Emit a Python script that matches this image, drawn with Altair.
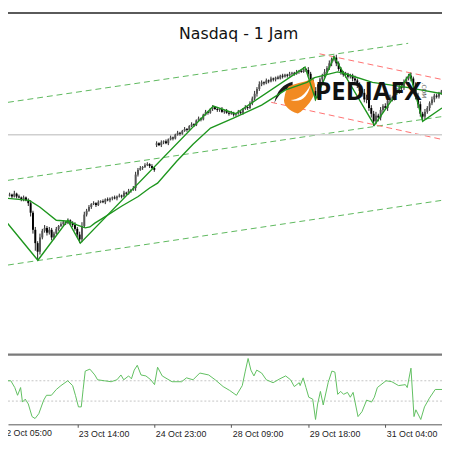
import altair as alt
import pandas as pd

# ---------------- data ----------------
first_bar = 4
first_open = 8004
closes = [
    8005, 8003, 8006, 8003, 8002, 8000, 8002, 7999, 7996, 7986,
    7968, 7954, 7945, 7960, 7967, 7970, 7965, 7968, 7960, 7964,
    7969, 7972, 7974, 7976, 7975, 7978, 7975, 7973, 7969, 7963,
    7958, 7972, 7984, 7988, 7992, 7995, 7996, 7994, 7997, 7998,
    7997, 8000, 7999, 8001, 8002, 8001, 8003, 8004, 8003, 8007,
    8006, 8009, 8010, 8012, 8026, 8031, 8033, 8034, 8036, 8037,
    8035, 8033, 8031, 8059, 8057, 8060, 8061, 8059, 8063, 8065,
    8064, 8068, 8070, 8069, 8072, 8074, 8073, 8077, 8079, 8078,
    8083, 8085, 8084, 8089, 8092, 8091, 8095, 8097, 8095, 8094,
    8095, 8092, 8093, 8091, 8090, 8091, 8089, 8090, 8092, 8091,
    8095, 8097, 8096, 8101, 8106, 8111, 8116, 8121, 8123, 8122,
    8125, 8124, 8127, 8126, 8128, 8127, 8130, 8129, 8131, 8130,
    8132, 8133, 8132, 8134, 8135, 8134, 8137, 8136, 8132, 8125,
    8114, 8109, 8118, 8126, 8130, 8134, 8138, 8143, 8147, 8149,
    8143, 8137, 8134, 8131, 8132, 8129, 8130, 8127, 8125, 8120,
    8114, 8112, 8105, 8107, 8096, 8090, 8082, 8088, 8086, 8094,
    8098, 8096, 8104, 8107, 8106, 8112, 8114, 8118, 8117, 8123,
    8127, 8130, 8127, 8120, 8108, 8100, 8090, 8087, 8092, 8096,
    8101, 8105, 8109, 8108, 8112, 8113,
]
wick_up = [
    2, 1, 3, 1, 2, 1, 2, 1, 2, 3,
    2, 3, 2, 4, 2, 3, 2, 3, 2, 2,
    2, 1, 2, 2, 1, 2, 1, 2, 3, 2,
    3, 4, 3, 2, 2, 1, 2, 1, 2, 1,
    2, 1, 2, 1, 1, 2, 1, 2, 1, 2,
    1, 2, 1, 2, 3, 2, 2, 1, 2, 2,
    1, 2, 1, 2, 1, 2, 1, 2, 1, 2,
    1, 1, 2, 1, 1, 2, 1, 1, 2, 1,
    1, 2, 1, 1, 2, 1, 1, 2, 1, 2,
    1, 2, 1, 2, 1, 2, 1, 1, 2, 1,
    1, 2, 1, 2, 2, 3, 2, 3, 2, 1,
    2, 1, 2, 1, 1, 2, 1, 2, 1, 1,
    2, 1, 1, 2, 1, 2, 2, 1, 3, 2,
    3, 4, 3, 2, 2, 3, 2, 3, 2, 2,
    3, 2, 2, 1, 2, 1, 2, 2, 3, 2,
    3, 2, 4, 3, 2, 3, 3, 4, 2, 3,
    2, 3, 2, 3, 2, 2, 3, 2, 2, 3,
    2, 2, 3, 2, 3, 4, 3, 2, 3, 2,
    2, 3, 2, 2, 1, 2,
]
wick_dn = [
    1, 2, 1, 2, 1, 2, 2, 1, 3, 4,
    4, 8, 9, 3, 2, 2, 3, 2, 3, 2,
    1, 2, 1, 2, 2, 1, 2, 2, 2, 3,
    4, 3, 2, 2, 1, 2, 1, 2, 1, 1,
    1, 2, 1, 2, 2, 1, 2, 1, 2, 1,
    2, 1, 2, 1, 3, 2, 1, 2, 1, 1,
    2, 1, 2, 2, 1, 2, 2, 1, 2, 1,
    2, 1, 1, 2, 1, 1, 2, 1, 1, 2,
    1, 1, 2, 1, 1, 2, 1, 2, 1, 2,
    2, 1, 2, 1, 2, 1, 2, 2, 1, 2,
    2, 1, 2, 1, 2, 2, 3, 2, 2, 2,
    1, 2, 1, 2, 2, 1, 1, 2, 1, 2,
    1, 2, 2, 1, 2, 1, 1, 2, 3, 4,
    4, 5, 3, 2, 3, 2, 2, 2, 3, 2,
    3, 2, 3, 2, 3, 2, 2, 3, 2, 3,
    3, 4, 3, 4, 3, 4, 5, 3, 4, 3,
    3, 2, 3, 2, 3, 2, 2, 3, 2, 2,
    2, 2, 3, 4, 3, 4, 3, 4, 3, 2,
    3, 2, 3, 2, 2, 2,
]
gap_bar = 67
gap_open = 8057

ma_bar = [3.3, 12.4, 16.9, 24.0, 29.3, 33.1, 36.4, 38.4, 40.5, 43.8,
          52.1, 59.1, 64.0, 67.4, 75.6, 82.6, 90.1, 100.4, 112.0, 122.3,
          131.4, 134.7, 144.6, 147.9, 159.5, 173.6, 180.2, 189.3]
ma_val = [8001, 7999, 7992, 7978, 7977, 7973, 7970, 7971, 7975, 7980,
          7993, 8003, 8012, 8017, 8040, 8058, 8075, 8086, 8099, 8115,
          8123, 8128, 8134, 8132, 8123, 8118, 8115, 8111]

zz_bar = [0, 16.1, 28.9, 34.3, 91.3, 100.8, 130.6, 135.1, 143.0, 160.3, 175.6, 181.0, 189.3]
zz_val = [7984, 7936, 7978, 7954, 8098, 8090, 8139, 8105, 8150, 8078, 8132, 8082, 8096]

chan_names = ["up_green", "mid_green", "low_green", "up_red", "low_red"]
chan_kind = ["green", "green", "green", "red", "red"]
chan_bar0 = [3.3, 3.3, 3.3, 136.8, 116.1]
chan_val0 = [8102, 8020, 7931, 8153, 8102]
chan_bar1 = [174.8, 189.3, 189.3, 189.3, 189.3]
chan_val1 = [8164, 8087, 7999, 8126, 8063]

price_line = 8068

ind_bar = [3.3, 4.5, 6.2, 7.4, 8.7, 9.5, 10.7, 12.0, 13.6, 14.9,
           16.5, 18.6, 19.8, 21.9, 24.0, 26.0, 28.9, 31.0, 32.2, 33.5,
           34.7, 35.5, 36.4, 38.4, 40.5, 41.7, 44.6, 47.5, 50.0, 51.7,
           52.9, 55.0, 56.2, 57.4, 58.7, 60.3, 62.4, 64.5, 66.1, 67.4,
           69.4, 73.6, 77.7, 79.8, 82.6, 85.5, 89.3, 92.1, 95.5, 98.3,
           101.2, 103.7, 105.0, 106.2, 107.4, 108.7, 109.9, 112.0, 114.0, 116.9,
           119.8, 122.3, 124.4, 126.0, 128.1, 128.5, 129.8, 131.0, 132.2, 133.9,
           135.1, 136.0, 137.2, 138.4, 140.5, 142.1, 143.4, 144.6, 145.9, 147.1,
           148.8, 150.0, 151.2, 153.3, 155.0, 157.0, 159.1, 160.3, 161.6, 165.3,
           167.8, 170.7, 173.6, 174.4, 176.0, 177.3, 178.1, 180.2, 181.8, 183.9,
           186.4, 189.3]
ind_val = [45, 45, 38, 30, 38, 23, 26, 21, 8, 6,
           11, 25, 30, 30, 36, 40, 45, 40, 30, 18,
           18, 36, 55, 57, 51, 46, 45, 44, 46, 51,
           46, 50, 47, 56, 61, 51, 50, 46, 41, 59,
           50, 44, 44, 48, 46, 53, 51, 46, 39, 35,
           30, 40, 55, 68, 56, 50, 56, 53, 46, 43,
           47, 50, 46, 39, 43, 40, 48, 38, 28, 26,
           5, 21, 34, 20, 43, 55, 54, 31, 34, 31,
           33, 28, 33, 8, 13, 25, 23, 28, 38, 45,
           44, 40, 41, 38, 58, 8, 15, 5, 18, 27,
           36, 36]
ind_levels = [45, 24]

tick_bars = [0, 33, 66, 99, 132, 165]
tick_labels = ["22 Oct 05:00", "23 Oct 14:00", "24 Oct 23:00",
               "28 Oct 09:00", "29 Oct 18:00", "31 Oct 04:00"]

title_text = "Nasdaq - 1 Jam"
logo_text = "PEDIAFX"

assert len(closes) == len(wick_up) == len(wick_dn)
assert len(ind_bar) == len(ind_val)

# ---------------- tables ----------------
bars = list(range(first_bar, first_bar + len(closes)))
opens = [first_open] + closes[:-1]
opens[gap_bar - first_bar] = gap_open
candles = pd.DataFrame({
    "i": bars, "o": opens, "c": closes,
    "h": [max(o, c) + u for o, c, u in zip(opens, closes, wick_up)],
    "l": [min(o, c) - d for o, c, d in zip(opens, closes, wick_dn)],
})
candles["dir"] = ["up" if c >= o else "down" for o, c in zip(opens, closes)]
ma_df = pd.DataFrame({"i": ma_bar, "p": ma_val})
zz_df = pd.DataFrame({"i": zz_bar, "p": zz_val})
chan_rows = []
for n, k, b0, v0, b1, v1 in zip(chan_names, chan_kind, chan_bar0, chan_val0, chan_bar1, chan_val1):
    chan_rows.append({"name": n, "kind": k, "i": b0, "p": v0})
    chan_rows.append({"name": n, "kind": k, "i": b1, "p": v1})
chan_df = pd.DataFrame(chan_rows)
ind_df = pd.DataFrame({"i": ind_bar, "v": ind_val})
lvl_df = pd.DataFrame({"v": ind_levels})
first_lbl = pd.DataFrame({"i": [tick_bars[0]], "t": [tick_labels[0]]})
one = pd.DataFrame({"a": [0]})

# ---------------- scales / layout ----------------
W, H = 442, 420
label_expr = " : ".join(f"datum.value == {b} ? '{t}'" for b, t in zip(tick_bars[1:], tick_labels[1:])) + " : ''"
xaxis = alt.Axis(values=tick_bars[1:], labelExpr=label_expr, grid=False, title=None,
                 domainColor="#555555", tickColor="#555555", tickSize=3,
                 labelFont="Liberation Sans", labelFontSize=9, labelColor="#222222",
                 labelAlign="left", labelBaseline="top", labelPadding=2, labelOffset=1)
xscale = alt.Scale(domain=[3.3, 189.3], nice=False, zero=False)
X = alt.X("i:Q", scale=xscale, axis=xaxis)
pscale = alt.Scale(domain=[7842, 8197], range=[344, 0], nice=False, zero=False)
iscale = alt.Scale(domain=[0, 71], range=[420, 350], nice=False, zero=False)
P = lambda f: alt.Y(f, scale=pscale, axis=None)
I = lambda f: alt.Y(f, scale=iscale, axis=None)

layers = []
# top border
layers.append(alt.Chart(one).mark_rule(color="#5a5a5a", strokeWidth=2).encode(
    x=alt.value(0), x2=alt.value(W), y=alt.value(1)))
# channels
layers.append(alt.Chart(chan_df).transform_filter(alt.datum.kind == "green").mark_line(
    color="#5cb85c", strokeWidth=1, strokeDash=[6, 4]).encode(x=X, y=P("p:Q"), detail="name:N"))
layers.append(alt.Chart(chan_df).transform_filter(alt.datum.kind == "red").mark_line(
    color="#ff7070", strokeWidth=1, strokeDash=[6, 4]).encode(x=X, y=P("p:Q"), detail="name:N"))
# current price line
layers.append(alt.Chart(one).mark_rule(color="#cfcfcf", strokeWidth=1.5).encode(
    y=alt.Y(datum=price_line, scale=pscale, axis=None)))
# candles
layers.append(alt.Chart(candles).mark_rule(color="#222222", strokeWidth=1).encode(
    x=X, y=P("l:Q"), y2="h:Q"))
layers.append(alt.Chart(candles).transform_filter(alt.datum.dir == "up").mark_rule(
    color="#555555", strokeWidth=2).encode(x=X, y=P("o:Q"), y2="c:Q"))
layers.append(alt.Chart(candles).transform_filter(alt.datum.dir == "down").mark_rule(
    color="#000000", strokeWidth=2).encode(x=X, y=P("o:Q"), y2="c:Q"))
# logo shapes
orange_path = ("M -0.6 -0.56 C -0.1 -0.75 0.4 -0.8 0.72 -1 C 0.95 -0.6 0.9 -0.1 0.55 0.35 "
               "C 0.3 0.65 0.1 0.85 -0.1 0.95 C -0.6 0.8 -0.95 0.45 -0.85 0.1 "
               "C -0.8 -0.2 -0.75 -0.4 -0.6 -0.56 Z")
swoosh_path = "M -0.5 0.2 C -0.1 0.2 0.35 -0.1 0.6 -0.65 C 0.5 -0.05 0.1 0.4 -0.5 0.2 Z"
wing_path = "M 0.9 -1 C 0.1 -0.8 -0.6 -0.2 -0.8 1 C -0.4 0.2 0.1 -0.35 0.9 -0.5 Z"
layers.append(alt.Chart(one).mark_point(shape=wing_path, filled=True, color="#1a1a1a",
                                        opacity=1, size=480, strokeWidth=0).encode(
    x=alt.value(280), y=alt.value(82)))
layers.append(alt.Chart(one).mark_point(shape=orange_path, filled=True, color="#f28a22",
                                        opacity=1, size=1350, strokeWidth=0).encode(
    x=alt.value(297), y=alt.value(86)))
layers.append(alt.Chart(one).mark_point(shape=swoosh_path, filled=True, color="#ffffff",
                                        opacity=1, size=1350, strokeWidth=0).encode(
    x=alt.value(297), y=alt.value(86)))
# moving average and zigzag
layers.append(alt.Chart(ma_df).mark_line(color="#1e961e", strokeWidth=1.4).encode(x=X, y=P("p:Q")))
layers.append(alt.Chart(zz_df).mark_line(color="#1e961e", strokeWidth=1.4, clip=True).encode(x=X, y=P("p:Q")))
# logo text
layers.append(alt.Chart(one).mark_text(text=logo_text, font="Open Sans", fontSize=26, fontWeight="bold",
                                       color="#111111", align="left", baseline="alphabetic").encode(
    x=alt.value(313), y=alt.value(90)))
layers.append(alt.Chart(one).mark_text(text=".COM", font="DejaVu Sans", fontSize=6, color="#555555",
                                       angle=90, align="center", baseline="middle").encode(
    x=alt.value(424), y=alt.value(80)))
# title
layers.append(alt.Chart(one).mark_text(text=title_text, font="DejaVu Sans", fontSize=16,
                                       color="#111111", align="center", baseline="middle").encode(
    x=alt.value(235), y=alt.value(23)))
# separator between panels
layers.append(alt.Chart(one).mark_rule(color="#7a7a7a", strokeWidth=2.5).encode(
    x=alt.value(0), x2=alt.value(W), y=alt.value(349)))
# indicator
layers.append(alt.Chart(lvl_df).mark_rule(color="#c4c4c4", strokeWidth=1, strokeDash=[2, 2]).encode(
    y=I("v:Q")))
layers.append(alt.Chart(ind_df).mark_line(color="#5fbf5f", strokeWidth=1).encode(x=X, y=I("v:Q")))
# partially hidden first time label (cut at the left edge, as in the reference)
layers.append(alt.Chart(first_lbl).mark_text(font="Liberation Sans", fontSize=9, color="#222222",
                                             align="left", baseline="top", dx=1).encode(
    x=X, y=alt.value(H + 5), text="t:N"))

chart = alt.layer(*layers).resolve_scale(y="independent").properties(
    width=W, height=H,
    autosize=alt.AutoSizeParams(type="none"),
    padding={"left": 0, "right": 0, "top": 0, "bottom": 14},
    background="white",
).configure_view(stroke=None)

chart.save("out.html", embed_options={"renderer": "svg", "actions": False})
